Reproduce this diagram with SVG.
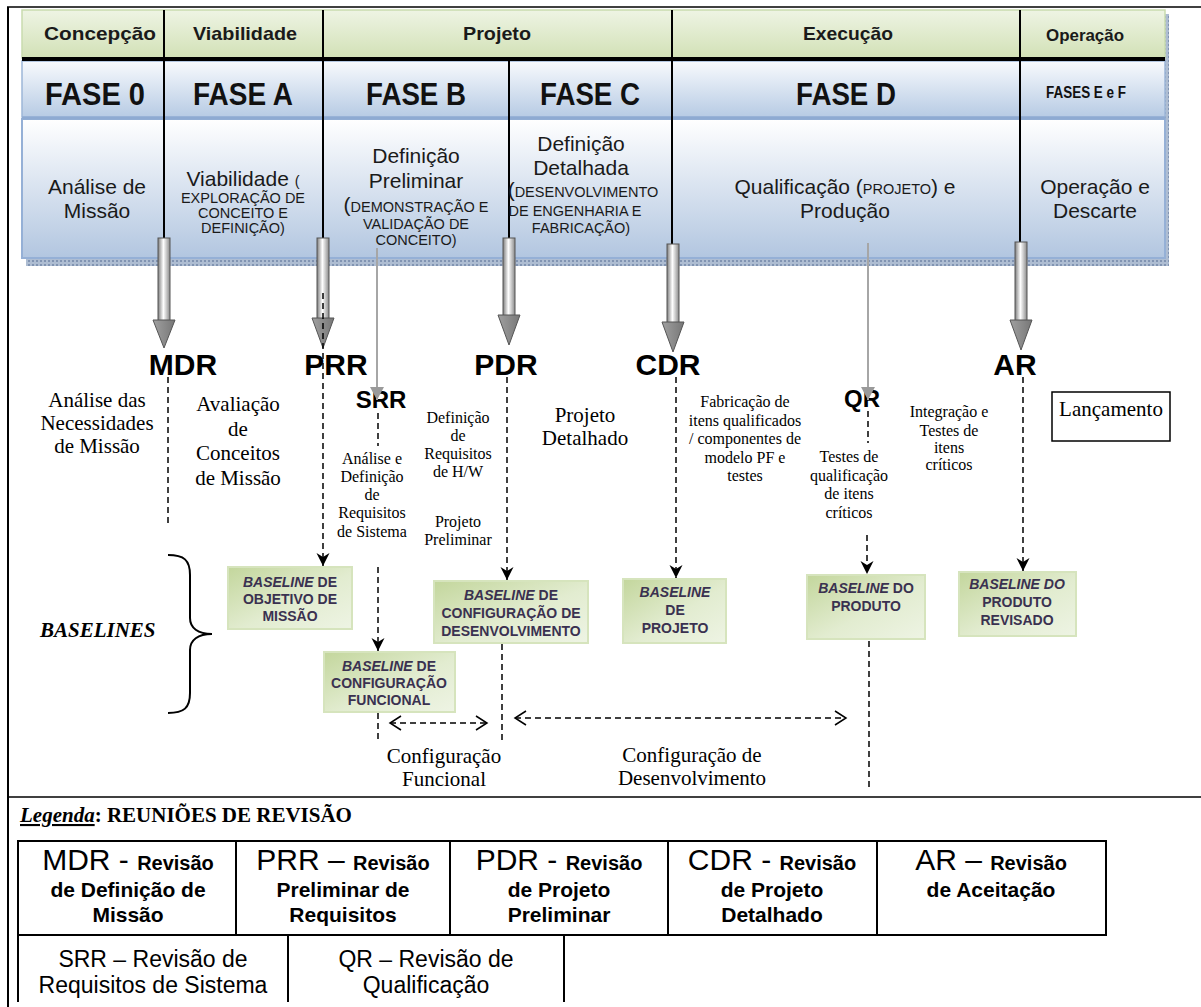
<svg xmlns="http://www.w3.org/2000/svg" width="1201" height="1007" viewBox="0 0 1201 1007">
<style>
.sans{font-family:"Liberation Sans",Arial,sans-serif}
.serif{font-family:"Liberation Serif","Times New Roman",serif}
.hdr{font-family:"Liberation Sans",Arial,sans-serif;font-weight:bold;font-size:19px;fill:#1a1a1a;text-anchor:middle}
.fase{font-family:"Liberation Sans",Arial,sans-serif;font-weight:bold;font-size:31px;fill:#111;text-anchor:middle}
.body{font-family:"Liberation Sans",Arial,sans-serif;font-size:21px;fill:#1a1a1a;text-anchor:middle}
.sc{font-size:14.5px}
.rev{font-family:"Liberation Sans",Arial,sans-serif;font-weight:bold;font-size:30px;fill:#000;text-anchor:middle}
.rev2{font-family:"Liberation Sans",Arial,sans-serif;font-weight:bold;font-size:24px;fill:#000;text-anchor:middle}
.t16{font-family:"Liberation Serif","Times New Roman",serif;font-size:16px;fill:#000;text-anchor:middle}
.t20{font-family:"Liberation Serif","Times New Roman",serif;font-size:21px;fill:#000;text-anchor:middle}
.bl{fill:url(#gBase);stroke:#d6e4bd;stroke-width:2}
.blt{font-family:"Liberation Sans",Arial,sans-serif;font-weight:bold;font-size:14px;fill:#3a3150;text-anchor:middle}
.it{font-style:italic}
.dash{fill:none;stroke:#000;stroke-width:1.5;stroke-dasharray:6 4}
.dv{stroke:#000;stroke-width:2}
.shaft{fill:url(#gShaft);stroke:#555;stroke-width:1}
.head{fill:url(#gHead);stroke:#555;stroke-width:1}
.grey{stroke:#a6a6a6;stroke-width:2;fill:none}
.leg{font-family:"Liberation Sans",Arial,sans-serif;fill:#000;text-anchor:middle}
.cell{fill:none;stroke:#000;stroke-width:2}
</style>
<defs>
<linearGradient id="gGreen" x1="0" y1="0" x2="0" y2="1"><stop offset="0" stop-color="#eef4e4"/><stop offset="1" stop-color="#d2e1b6"/></linearGradient>
<linearGradient id="gFase" x1="0" y1="0" x2="0" y2="1"><stop offset="0" stop-color="#f8fafd"/><stop offset="1" stop-color="#b7cbe4"/></linearGradient>
<linearGradient id="gBody" x1="0" y1="0" x2="0" y2="1"><stop offset="0" stop-color="#ffffff"/><stop offset="1" stop-color="#b2c6e0"/></linearGradient>
<linearGradient id="gShaft" x1="0" y1="0" x2="1" y2="0"><stop offset="0" stop-color="#7d7d7d"/><stop offset="0.45" stop-color="#ffffff"/><stop offset="1" stop-color="#8a8a8a"/></linearGradient>
<linearGradient id="gHead" x1="0" y1="0" x2="1" y2="0"><stop offset="0" stop-color="#a0a0a0"/><stop offset="1" stop-color="#777"/></linearGradient>
<linearGradient id="gBase" x1="0" y1="0" x2="1" y2="1"><stop offset="0" stop-color="#c3d69c"/><stop offset="0.55" stop-color="#e2ecd0"/><stop offset="1" stop-color="#eef4e4"/></linearGradient>
<pattern id="hatch" width="4" height="4" patternUnits="userSpaceOnUse"><rect width="4" height="4" fill="#aebdd2"/><rect width="2" height="2" fill="#8194b2"/></pattern>
<marker id="ah" markerWidth="14" markerHeight="14" refX="13" refY="6.5" orient="auto" markerUnits="userSpaceOnUse"><path d="M0,0 L13,6.5 L0,13 L4,6.5 Z" fill="#000"/></marker>
<marker id="ga" markerWidth="16" markerHeight="16" refX="13" refY="7" orient="auto" markerUnits="userSpaceOnUse"><path d="M0,0 L13,7 L0,14 Z" fill="#9a9a9a"/></marker>
<marker id="chev" markerWidth="14" markerHeight="18" refX="12" refY="8" orient="auto-start-reverse" markerUnits="userSpaceOnUse"><path d="M1,1 L12,8 L1,15" fill="none" stroke="#000" stroke-width="1.5"/></marker>
</defs>

<rect x="0" y="0" width="1201" height="1007" fill="#fff"/>
<!-- frame -->
<line x1="7" y1="7" x2="1201" y2="7" stroke="#000" stroke-width="1.5"/>
<line x1="8" y1="7" x2="8" y2="1007" stroke="#000" stroke-width="2"/>
<line x1="8" y1="797" x2="1201" y2="797" stroke="#000" stroke-width="1.5"/>

<!-- header band -->
<g id="header">
<rect x="1163" y="14" width="6" height="250" fill="url(#hatch)"/>
<rect x="26" y="258" width="1143" height="8" fill="url(#hatch)"/>
<rect x="22" y="10" width="1143" height="48" fill="url(#gGreen)" stroke="#c9dbae" stroke-width="1.5"/>
<rect x="22" y="61" width="1143" height="56" fill="url(#gFase)" stroke="#9db6d8" stroke-width="1.5"/>
<rect x="22" y="119" width="1143" height="139" fill="url(#gBody)" stroke="#95b0d6" stroke-width="2"/>
<line x1="22" y1="59" x2="1165" y2="59" stroke="#000" stroke-width="4"/>
<line x1="22" y1="118" x2="1165" y2="118" stroke="#8eaad2" stroke-width="3"/>
<line class="dv" x1="164" y1="10" x2="164" y2="238"/>
<line class="dv" x1="323" y1="10" x2="323" y2="238"/>
<line class="dv" x1="509" y1="61" x2="509" y2="238"/>
<line class="dv" x1="672" y1="10" x2="672" y2="244"/>
<line class="dv" x1="1020" y1="10" x2="1020" y2="242"/>

<text class="hdr" x="100" y="40" textLength="112" lengthAdjust="spacingAndGlyphs">Concepção</text>
<text class="hdr" x="245" y="40" textLength="104" lengthAdjust="spacingAndGlyphs">Viabilidade</text>
<text class="hdr" x="497" y="40" textLength="68" lengthAdjust="spacingAndGlyphs">Projeto</text>
<text class="hdr" x="848" y="40" textLength="90" lengthAdjust="spacingAndGlyphs">Execução</text>
<text class="hdr" x="1085" y="41" style="font-size:16px" textLength="78" lengthAdjust="spacingAndGlyphs">Operação</text>

<text class="fase" x="95" y="105" textLength="100" lengthAdjust="spacingAndGlyphs">FASE 0</text>
<text class="fase" x="243" y="105" textLength="100" lengthAdjust="spacingAndGlyphs">FASE A</text>
<text class="fase" x="416" y="105" textLength="100" lengthAdjust="spacingAndGlyphs">FASE B</text>
<text class="fase" x="590" y="105" textLength="100" lengthAdjust="spacingAndGlyphs">FASE C</text>
<text class="fase" x="846" y="105" textLength="100" lengthAdjust="spacingAndGlyphs">FASE D</text>
<text class="fase" x="1086" y="98" style="font-size:16px" textLength="80" lengthAdjust="spacingAndGlyphs">FASES  E e F</text>

<text class="body" x="97" y="194">Análise de</text>
<text class="body" x="97" y="218">Missão</text>

<text class="body" x="243" y="186">Viabilidade <tspan class="sc">(</tspan></text>
<text class="body sc" x="243" y="203">EXPLORAÇÃO DE</text>
<text class="body sc" x="243" y="218">CONCEITO E</text>
<text class="body sc" x="243" y="233">DEFINIÇÃO)</text>

<text class="body" x="416" y="163">Definição</text>
<text class="body" x="416" y="188">Preliminar</text>
<text class="body" x="416" y="212">(<tspan class="sc">DEMONSTRAÇÃO E</tspan></text>
<text class="body sc" x="416" y="229">VALIDAÇÃO DE</text>
<text class="body sc" x="416" y="245">CONCEITO)</text>

<text class="body" x="581" y="151">Definição</text>
<text class="body" x="581" y="175">Detalhada</text>
<text class="body" x="583" y="197">(<tspan class="sc">DESENVOLVIMENTO</tspan></text>
<text class="body sc" x="575" y="216">DE ENGENHARIA E</text>
<text class="body sc" x="581" y="233">FABRICAÇÃO)</text>

<text class="body" x="845" y="194">Qualificação (<tspan class="sc">PROJETO</tspan>) e</text>
<text class="body" x="845" y="218">Produção</text>

<text class="body" x="1095" y="194">Operação e</text>
<text class="body" x="1095" y="218">Descarte</text>
</g>

<!-- review milestones -->
<g id="MDR">
<rect class="shaft" x="158" y="238" width="12" height="83"/>
<polygon class="head" points="153,320 175,320 164,348"/>
<text class="rev" x="183" y="375">MDR</text>
</g>
<g id="PRR">
<rect class="shaft" x="317" y="238" width="12" height="81"/>
<polygon class="head" points="312,318 334,318 323,348"/>
<text class="rev" x="336" y="375">PRR</text>
</g>
<g id="SRR">
<text class="rev2" x="381" y="408">SRR</text>
</g>
<g id="PDR">
<rect class="shaft" x="503" y="238" width="12" height="78"/>
<polygon class="head" points="498,315 520,315 509,345"/>
<text class="rev" x="506" y="375">PDR</text>
</g>
<g id="CDR">
<rect class="shaft" x="667" y="244" width="12" height="79"/>
<polygon class="head" points="662,322 684,322 673,352"/>
<text class="rev" x="668" y="375">CDR</text>
</g>
<g id="QR">
<text class="rev2" x="862" y="407">QR</text>
</g>
<g id="AR">
<rect class="shaft" x="1015" y="242" width="12" height="79"/>
<polygon class="head" points="1010,320 1032,320 1021,350"/>
<text class="rev" x="1015" y="375">AR</text>
</g>

<!-- activity texts -->
<g id="activities">
<text class="t20" x="97" y="407">Análise das</text>
<text class="t20" x="97" y="430">Necessidades</text>
<text class="t20" x="97" y="453">de Missão</text>

<text class="t20" x="238" y="411">Avaliação</text>
<text class="t20" x="238" y="436">de</text>
<text class="t20" x="238" y="460">Conceitos</text>
<text class="t20" x="238" y="485">de Missão</text>

<text class="t16" x="372" y="464">Análise e</text>
<text class="t16" x="372" y="482">Definição</text>
<text class="t16" x="372" y="500">de</text>
<text class="t16" x="372" y="518">Requisitos</text>
<text class="t16" x="372" y="537">de Sistema</text>

<text class="t16" x="458" y="423">Definição</text>
<text class="t16" x="458" y="441">de</text>
<text class="t16" x="458" y="459">Requisitos</text>
<text class="t16" x="458" y="477">de H/W</text>
<text class="t16" x="458" y="527">Projeto</text>
<text class="t16" x="458" y="545">Preliminar</text>

<text class="t20" x="585" y="422">Projeto</text>
<text class="t20" x="585" y="445">Detalhado</text>

<text class="t16" x="745" y="407">Fabricação de</text>
<text class="t16" x="745" y="426">itens qualificados</text>
<text class="t16" x="745" y="444">/ componentes de</text>
<text class="t16" x="745" y="463">modelo PF e</text>
<text class="t16" x="745" y="481">testes</text>

<text class="t16" x="849" y="462">Testes de</text>
<text class="t16" x="849" y="481">qualificação</text>
<text class="t16" x="849" y="499">de itens</text>
<text class="t16" x="849" y="518">críticos</text>

<text class="t16" x="949" y="417">Integração e</text>
<text class="t16" x="949" y="436">Testes de</text>
<text class="t16" x="949" y="453">itens</text>
<text class="t16" x="949" y="470">críticos</text>
</g>

<g id="lancamento">
<rect x="1052" y="392" width="118" height="49" fill="#fff" stroke="#000" stroke-width="1.5"/>
<text class="t20" x="1111" y="416">Lançamento</text>
</g>

<!-- baselines -->
<g id="baselines-label">
<text class="serif" x="40" y="637" style="font-size:21px;font-weight:bold;font-style:italic">BASELINES</text>
<path d="M168,555 C184,555 190,560 190,575 L190,618 C190,628 198,634 212,634 C198,634 190,640 190,650 L190,693 C190,708 184,713 168,713" fill="none" stroke="#000" stroke-width="2"/>
</g>
<g id="bl-objetivo">
<rect class="bl" x="228" y="567" width="124" height="62"/>
<text class="blt" x="290" y="587"><tspan class="it">BASELINE</tspan> DE</text>
<text class="blt" x="290" y="604">OBJETIVO DE</text>
<text class="blt" x="290" y="621">MISSÃO</text>
</g>
<g id="bl-funcional">
<rect class="bl" x="324" y="652" width="131" height="60"/>
<text class="blt" x="389" y="671"><tspan class="it">BASELINE</tspan> DE</text>
<text class="blt" x="389" y="688">CONFIGURAÇÃO</text>
<text class="blt" x="389" y="705">FUNCIONAL</text>
</g>
<g id="bl-desenv">
<rect class="bl" x="434" y="581" width="154" height="62"/>
<text class="blt" x="511" y="600"><tspan class="it">BASELINE</tspan> DE</text>
<text class="blt" x="511" y="618">CONFIGURAÇÃO DE</text>
<text class="blt" x="511" y="636">DESENVOLVIMENTO</text>
</g>
<g id="bl-projeto">
<rect class="bl" x="623" y="579" width="103" height="64"/>
<text class="blt it" x="675" y="597">BASELINE</text>
<text class="blt" x="675" y="615">DE</text>
<text class="blt" x="675" y="633">PROJETO</text>
</g>
<g id="bl-produto">
<rect class="bl" x="807" y="575" width="118" height="64"/>
<text class="blt" x="866" y="593"><tspan class="it">BASELINE</tspan>  DO</text>
<text class="blt" x="866" y="611">PRODUTO</text>
</g>
<g id="bl-revisado">
<rect class="bl" x="959" y="572" width="117" height="64"/>
<text class="blt it" x="1017" y="589">BASELINE DO</text>
<text class="blt" x="1017" y="607">PRODUTO</text>
<text class="blt" x="1017" y="625">REVISADO</text>
</g>

<!-- connectors -->
<g id="connectors">
<line class="grey" x1="377" y1="248" x2="377" y2="400" marker-end="url(#ga)"/>
<line class="grey" x1="868" y1="243" x2="868" y2="400" marker-end="url(#ga)"/>
<line class="dash" x1="168" y1="377" x2="168" y2="523"/>
<line class="dash" x1="323" y1="293" x2="323" y2="566" marker-end="url(#ah)"/>
<line class="dash" x1="378" y1="413" x2="378" y2="446"/>
<line class="dash" x1="378" y1="567" x2="378" y2="651" marker-end="url(#ah)"/>
<line class="dash" x1="378" y1="713" x2="378" y2="741"/>
<line class="dash" x1="507" y1="377" x2="507" y2="580" marker-end="url(#ah)"/>
<line class="dash" x1="502" y1="644" x2="502" y2="743"/>
<line class="dash" x1="676" y1="377" x2="676" y2="578" marker-end="url(#ah)"/>
<line class="dash" x1="868" y1="411" x2="868" y2="443"/>
<line class="dash" x1="867" y1="535" x2="867" y2="574" marker-end="url(#ah)"/>
<line class="dash" x1="869" y1="641" x2="869" y2="790"/>
<line class="dash" x1="1023" y1="377" x2="1023" y2="571" marker-end="url(#ah)"/>
<line class="dash" x1="390" y1="723" x2="487" y2="723" marker-start="url(#chev)" marker-end="url(#chev)"/>
<line class="dash" x1="515" y1="718" x2="846" y2="718" marker-start="url(#chev)" marker-end="url(#chev)"/>
</g>

<g id="config-labels">
<text class="t20" x="444" y="763">Configuração</text>
<text class="t20" x="444" y="786">Funcional</text>
<text class="t20" x="692" y="762">Configuração de</text>
<text class="t20" x="692" y="785">Desenvolvimento</text>
</g>

<!-- legend -->
<g id="legend">
<text class="serif" x="20" y="822" style="font-size:21px;font-weight:bold"><tspan style="font-style:italic;text-decoration:underline">Legenda</tspan>:  REUNIÕES DE REVISÃO</text>
<line class="cell" x1="17" y1="841" x2="1107" y2="841"/>
<line class="cell" x1="17" y1="935" x2="1107" y2="935"/>
<line class="cell" x1="18" y1="840" x2="18" y2="1002"/>
<line class="cell" x1="236" y1="840" x2="236" y2="935"/>
<line class="cell" x1="450" y1="840" x2="450" y2="935"/>
<line class="cell" x1="668" y1="840" x2="668" y2="935"/>
<line class="cell" x1="877" y1="840" x2="877" y2="935"/>
<line class="cell" x1="1106" y1="840" x2="1106" y2="936"/>
<line class="cell" x1="288" y1="935" x2="288" y2="1002"/>
<line class="cell" x1="564" y1="935" x2="564" y2="1002"/>

<text class="leg" x="128" y="870"><tspan style="font-size:30px">MDR - </tspan><tspan style="font-size:20px;font-weight:bold">Revisão</tspan></text>
<text class="leg" x="128" y="897" style="font-size:21px;font-weight:bold">de Definição de</text>
<text class="leg" x="128" y="922" style="font-size:21px;font-weight:bold">Missão</text>

<text class="leg" x="343" y="870"><tspan style="font-size:30px">PRR – </tspan><tspan style="font-size:20px;font-weight:bold">Revisão</tspan></text>
<text class="leg" x="343" y="897" style="font-size:21px;font-weight:bold">Preliminar de</text>
<text class="leg" x="343" y="922" style="font-size:21px;font-weight:bold">Requisitos</text>

<text class="leg" x="559" y="870"><tspan style="font-size:30px">PDR - </tspan><tspan style="font-size:20px;font-weight:bold">Revisão</tspan></text>
<text class="leg" x="559" y="897" style="font-size:21px;font-weight:bold">de Projeto</text>
<text class="leg" x="559" y="922" style="font-size:21px;font-weight:bold">Preliminar</text>

<text class="leg" x="772" y="870"><tspan style="font-size:30px">CDR - </tspan><tspan style="font-size:20px;font-weight:bold">Revisão</tspan></text>
<text class="leg" x="772" y="897" style="font-size:21px;font-weight:bold">de Projeto</text>
<text class="leg" x="772" y="922" style="font-size:21px;font-weight:bold">Detalhado</text>

<text class="leg" x="991" y="870"><tspan style="font-size:30px">AR – </tspan><tspan style="font-size:20px;font-weight:bold">Revisão</tspan></text>
<text class="leg" x="991" y="897" style="font-size:21px;font-weight:bold">de Aceitação</text>

<text class="leg" x="153" y="967" style="font-size:23px">SRR – Revisão de</text>
<text class="leg" x="153" y="993" style="font-size:23px">Requisitos de Sistema</text>
<text class="leg" x="426" y="967" style="font-size:23px">QR – Revisão de</text>
<text class="leg" x="426" y="993" style="font-size:23px">Qualificação</text>
</g>
</svg>
